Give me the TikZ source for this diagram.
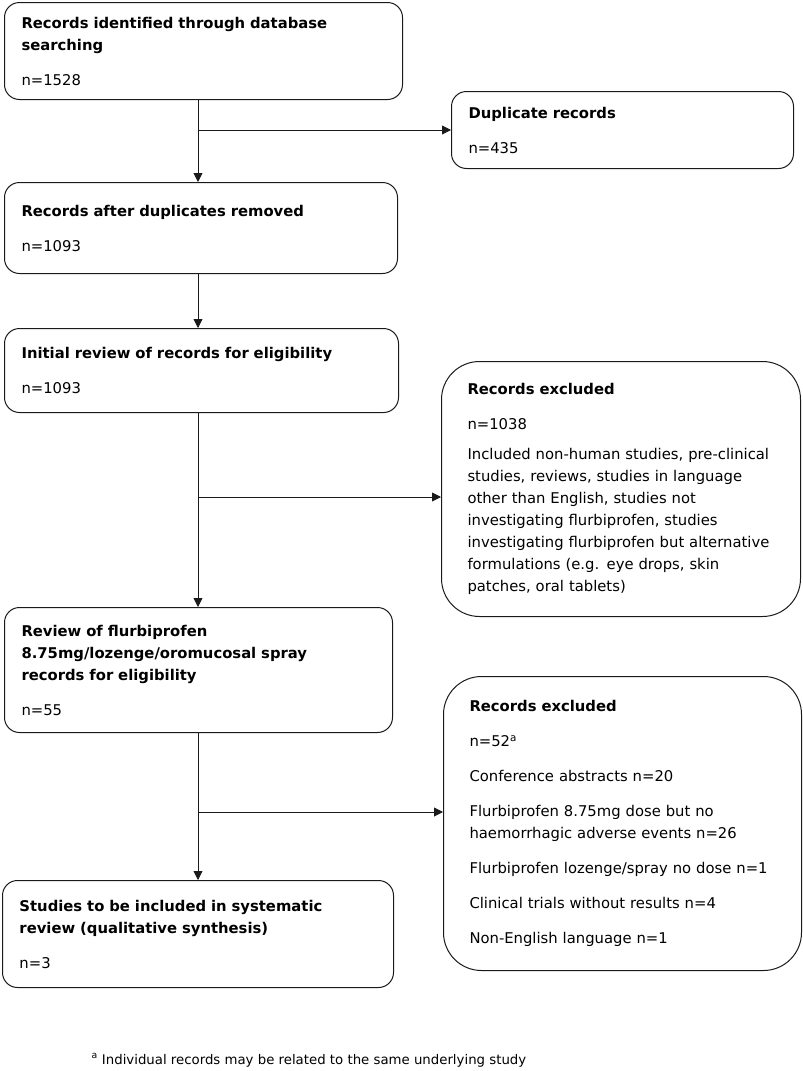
\documentclass[tikz,border=0pt]{standalone}
\usepackage{fontspec}
\setmainfont{DejaVu Sans}
\usepackage{tikz}
\usetikzlibrary{arrows.meta, positioning, calc}
\definecolor{flowline}{HTML}{1A1A1A}

\begin{document}
\begin{tikzpicture}[
    x=1pt, y=-1pt,
    every node/.style={font=\fontsize{14.8}{22}\selectfont},
    box/.style={draw=flowline, line width=1pt, rounded corners=15pt, anchor=north west, align=left, inner xsep=17pt, text width=#1},
    excl/.style={box=#1, rounded corners=38pt, inner xsep=26pt},
    arrow/.style={-{Triangle[length=9pt, width=9pt]}, line width=0.9pt, color=flowline}
]
\useasboundingbox (0,0) rectangle (803,1071);

% Main column
\node[box=364pt, minimum height=97pt] (recs) at (4,2) {\textbf{Records identified through database}\\\textbf{searching}\\[13pt]n=1528};
\node[box=359pt, minimum height=91pt] (dedup) at (4,182) {\textbf{Records after duplicates removed}\\[13pt]n=1093};
\node[box=360pt, minimum height=84pt] (initial) at (4,328) {\textbf{Initial review of records for eligibility}\\[13pt]n=1093};
\node[box=354pt, minimum height=125pt] (flurbi) at (4,607) {\textbf{Review of flurbiprofen}\\\textbf{8.75mg/lozenge/oromucosal spray}\\\textbf{records for eligibility}\\[13pt]n=55};
\node[box=357pt, minimum height=107pt] (final) at (2,880) {\textbf{Studies to be included in systematic}\\\textbf{review (qualitative synthesis)}\\[13pt]n=3};

% Side boxes
\node[box=308pt, minimum height=77pt] (dupl) at (451,91) {\textbf{Duplicate records}\\[13pt]n=435};
\node[excl=307pt, minimum height=255pt] (exclA) at (441,361) {\textbf{Records excluded}\\[13pt]n=1038\\[8pt]Included non-human studies, pre-clinical\\studies, reviews, studies in language\\other than English, studies not\\investigating flurbiprofen, studies\\investigating flurbiprofen but alternative\\formulations (e.g. eye drops, skin\\patches, oral tablets)};
\node[excl=306pt, minimum height=294pt] (exclB) at (443,676) {\textbf{Records excluded}\\[13pt]n=52\textsuperscript{a}\\[13pt]Conference abstracts n=20\\[13pt]Flurbiprofen 8.75mg dose but no\\haemorrhagic adverse events n=26\\[13pt]Flurbiprofen lozenge/spray no dose n=1\\[13pt]Clinical trials without results n=4\\[13pt]Non-English language n=1};

% Spine and branch points
\coordinate (spine) at (198,0);
\coordinate (brA) at (198,130);
\coordinate (brB) at (198,497);
\coordinate (brC) at (198,812);

% Links
\draw[arrow] (recs.south -| spine) -- (dedup.north -| spine);
\draw[arrow] (dedup.south -| spine) -- (initial.north -| spine);
\draw[arrow] (initial.south -| spine) -- (flurbi.north -| spine);
\draw[arrow] (flurbi.south -| spine) -- (final.north -| spine);
\draw[arrow] (brA) -- (brA -| dupl.west);
\draw[arrow] (brB) -- (brB -| exclA.west);
\draw[arrow] (brC) -- (brC -| exclB.west);

% Footnote
\node[anchor=base west, font=\fontsize{13.3}{17}\selectfont] (note) at (88,1064) {\textsuperscript{a} Individual records may be related to the same underlying study};

\end{tikzpicture}
\end{document}
